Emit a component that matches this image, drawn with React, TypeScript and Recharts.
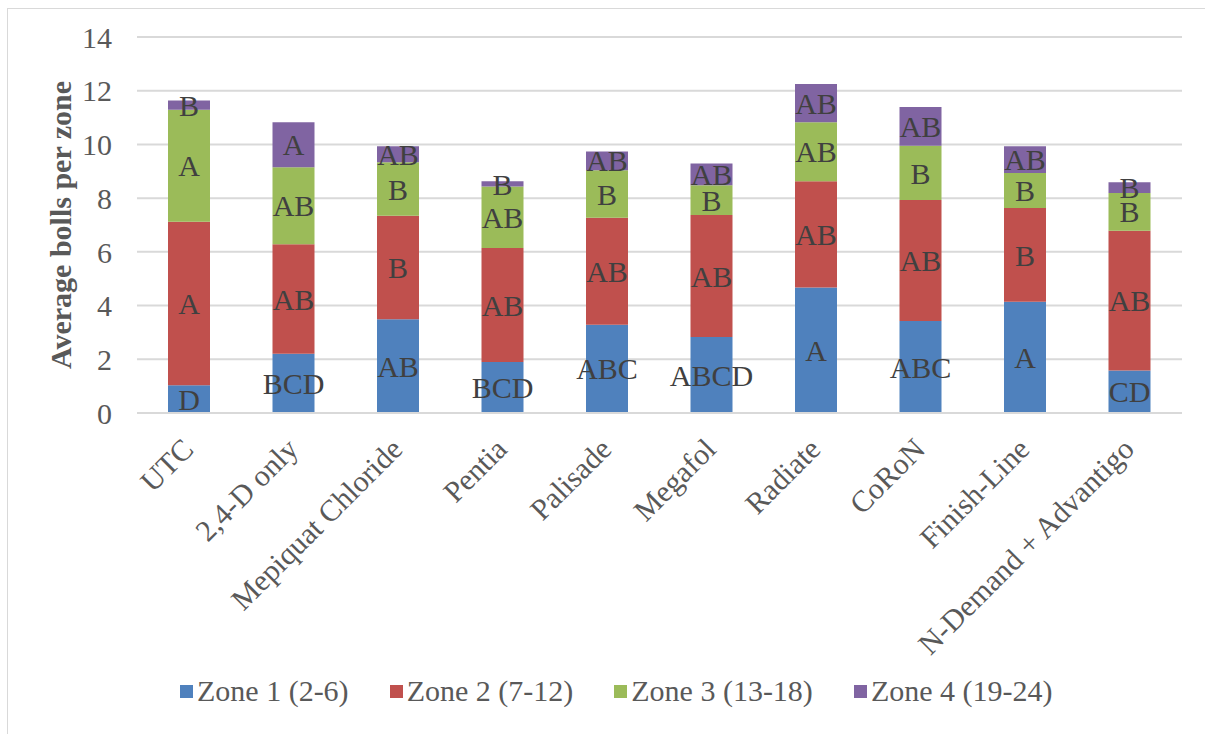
import React from "react";
import {
  BarChart,
  Bar,
  XAxis,
  YAxis,
  CartesianGrid,
  Legend,
  LabelList,
} from "recharts";

const treatments = [
  "UTC",
  "2,4-D only",
  "Mepiquat Chloride",
  "Pentia",
  "Palisade",
  "Megafol",
  "Radiate",
  "CoRoN",
  "Finish-Line",
  "N-Demand + Advantigo",
];

// average bolls per zone
const zone1 = [1.03, 2.21, 3.49, 1.9, 3.29, 2.83, 4.67, 3.43, 4.14, 1.58];
const zone2 = [6.09, 4.07, 3.85, 4.24, 3.98, 4.54, 3.96, 4.5, 3.49, 5.21];
const zone3 = [4.17, 2.87, 2.0, 2.29, 1.77, 1.11, 2.2, 2.02, 1.31, 1.4];
const zone4 = [0.35, 1.68, 0.59, 0.2, 0.7, 0.81, 1.42, 1.44, 0.99, 0.4];

// mean separation letters
const zone1Letters = ["D", "BCD", "AB", "BCD", "ABC", "ABCD", "A", "ABC", "A", "CD"];
const zone2Letters = ["A", "AB", "B", "AB", "AB", "AB", "AB", "AB", "B", "AB"];
const zone3Letters = ["A", "AB", "B", "AB", "B", "B", "AB", "B", "B", "B"];
const zone4Letters = ["B", "A", "AB", "B", "AB", "AB", "AB", "AB", "AB", "B"];

const yTicks = [0, 2, 4, 6, 8, 10, 12, 14];

const series = [
  { key: "z1", label: "l1", name: "Zone 1 (2-6)", color: "#4f81bd" },
  { key: "z2", label: "l2", name: "Zone 2 (7-12)", color: "#c0504d" },
  { key: "z3", label: "l3", name: "Zone 3 (13-18)", color: "#9bbb59" },
  { key: "z4", label: "l4", name: "Zone 4 (19-24)", color: "#8064a2" },
];

const data = treatments.map((name, i) => ({
  name,
  z1: zone1[i],
  z2: zone2[i],
  z3: zone3[i],
  z4: zone4[i],
  l1: zone1Letters[i],
  l2: zone2Letters[i],
  l3: zone3Letters[i],
  l4: zone4Letters[i],
}));

const FONT = "'Liberation Serif', 'Times New Roman', serif";

const CategoryTick = (props: any) => {
  const { x, y, payload } = props;
  const ax = x + 6;
  const ay = y + 38;
  return (
    <text
      x={ax}
      y={ay}
      transform={`rotate(-45, ${ax}, ${ay})`}
      textAnchor="end"
      fill="#595959"
      fontSize={30}
      fontFamily={FONT}
    >
      {payload.value}
    </text>
  );
};

const renderLegend = () => (
  <div style={{ display: "flex", alignItems: "center", fontFamily: FONT, fontSize: 30, color: "#595959" }}>
    {series.map((s) => (
      <div key={s.key} style={{ display: "flex", alignItems: "center", marginRight: 41 }}>
        <span style={{ width: 13, height: 13, background: s.color, display: "inline-block", marginRight: 4 }} />
        <span style={{ whiteSpace: "nowrap" }}>{s.name}</span>
      </div>
    ))}
  </div>
);

export default function App() {
  return (
    <div style={{ position: "absolute", left: 0, top: 0, width: 1205, height: 734, overflow: "hidden", background: "#fff" }}>
      <div
        style={{
          position: "absolute",
          left: 7,
          top: 8,
          width: 1240,
          height: 760,
          border: "1px solid #d9d9d9",
        }}
      />
      <div style={{ position: "absolute", left: 0, top: 0 }}>
        <BarChart
          width={1205}
          height={734}
          data={data}
          margin={{ top: 37, right: 23, left: 0, bottom: 71 }}
          barSize={42}
        >
          <CartesianGrid vertical={false} stroke="#d9d9d9" strokeWidth={2} />
          <XAxis
            dataKey="name"
            height={250}
            tick={<CategoryTick />}
            tickLine={false}
            tickSize={0}
            tickMargin={0}
            interval={0}
            axisLine={{ stroke: "#d9d9d9", strokeWidth: 2 }}
          />
          <YAxis
            width={137}
            domain={[0, 14]}
            ticks={yTicks}
            axisLine={false}
            tickLine={false}
            tickSize={0}
            tickMargin={25}
            tick={{ fill: "#595959", fontSize: 30, fontFamily: FONT }}
            label={{
              value: "Average bolls per zone",
              content: () => (
                <text
                  x={60}
                  y={225}
                  transform="rotate(-90, 60, 225)"
                  textAnchor="middle"
                  dominantBaseline="central"
                  fill="#595959"
                  fontSize={30}
                  fontWeight="bold"
                  fontFamily={FONT}
                >
                  Average bolls per zone
                </text>
              ),
            }}
          />
          <Legend
            layout="horizontal"
            verticalAlign="middle"
            content={renderLegend}
            wrapperStyle={{ left: 180, top: 674, width: 1000 }}
          />
          {series.map((s) => (
            <Bar key={s.key} dataKey={s.key} name={s.name} stackId="a" fill={s.color} isAnimationActive={false}>
              <LabelList
                dataKey={s.label}
                position="center"
                fill="#404040"
                fontSize={30}
                fontFamily={FONT}
              />
            </Bar>
          ))}
        </BarChart>
      </div>
    </div>
  );
}
